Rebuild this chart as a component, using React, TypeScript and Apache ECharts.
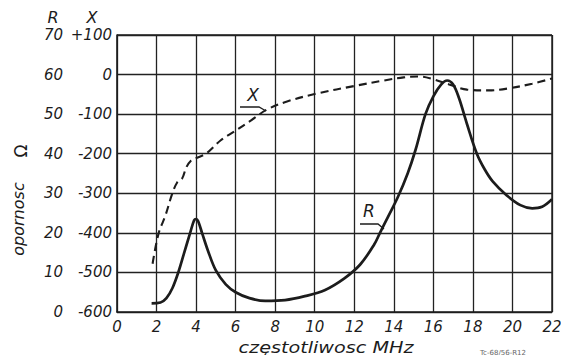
import React, { useEffect, useRef } from "react";
import * as echarts from "echarts";

const xTicks = [0, 2, 4, 6, 8, 10, 12, 14, 16, 18, 20, 22];
const rTicks = [0, 10, 20, 30, 40, 50, 60, 70];
const xReactTicks = [-600, -500, -400, -300, -200, -100, 0, 100];

// R (resistance, ohm) vs frequency (MHz)
const rFreq = [1.75, 2.2, 2.5, 2.8, 3.1, 3.4, 3.7, 3.9, 4.0, 4.1, 4.3, 4.6, 5.0, 5.5, 6.0, 6.7, 7.5, 8.5, 9.5, 10.5, 11.5, 12.3, 13.0, 13.3, 13.7, 14.2, 14.7, 15.1, 15.6, 16.0, 16.4, 16.7, 17.0, 17.3, 17.7, 18.2, 18.6, 19.0, 19.7, 20.4, 21.0, 21.5, 22.0];
const rValues = [2.2, 2.4, 3.5, 6, 10, 15, 20, 23.2, 23.5, 23, 20, 15.5, 10.5, 7, 5, 3.5, 2.8, 3, 4, 5.5, 8.5, 12, 17, 20, 24, 29, 35, 41, 50, 54.5, 57.5, 58.5, 57.5, 54, 47.5, 40, 36, 33, 29.5, 27, 26.2, 26.6, 28.5];

// X (reactance, ohm) vs frequency (MHz)
const xFreq = [1.8, 2.1, 2.45, 2.8, 3.05, 3.3, 3.5, 3.75, 4.05, 4.5, 5.25, 5.9, 6.8, 7.6, 8.6, 10.1, 12.1, 13.5, 14.5, 15.3, 16.0, 16.8, 17.7, 18.8, 19.8, 21.0, 22.0];
const xValues = [-478, -402, -356, -300, -272, -262, -235, -217, -210, -200, -166, -145, -115, -88, -68, -48, -28, -15, -7, -5, -12, -25, -38, -40, -35, -23, -10];

const FONT = "DejaVu Sans";
const INK = "#1c1c1c";

export default function App() {
  const ref = useRef<HTMLDivElement>(null);
  useEffect(() => {
    if (!ref.current) return;
    const chart = echarts.init(ref.current, null, { renderer: "svg" });
    const rData = rFreq.map((f, i) => [f, rValues[i]]);
    const xData = xFreq.map((f, i) => [f, xValues[i]]);
    const labelStyle = { fontFamily: FONT, fontStyle: "italic" as const, fontSize: 15, color: INK };
    chart.setOption({
      animation: false,
      backgroundColor: "#ffffff",
      grid: { left: 117, right: 17, top: 35, bottom: 51, show: false },
      xAxis: {
        type: "value",
        min: xTicks[0],
        max: xTicks[xTicks.length - 1],
        interval: 2,
        axisLine: { show: true, lineStyle: { color: INK, width: 1.6 } },
        axisTick: { show: false },
        axisLabel: { ...labelStyle, margin: 7 },
        splitLine: { show: true, lineStyle: { color: "#222", width: 1.3 } },
      },
      yAxis: [
        {
          type: "value",
          min: rTicks[0],
          max: rTicks[rTicks.length - 1],
          interval: 10,
          position: "left",
          axisLine: { show: true, onZero: false, lineStyle: { color: INK, width: 1.6 } },
          axisTick: { show: false },
          axisLabel: { ...labelStyle, margin: 54 },
          splitLine: { show: true, lineStyle: { color: "#222", width: 1.3 } },
        },
        {
          type: "value",
          min: xReactTicks[0],
          max: xReactTicks[xReactTicks.length - 1],
          interval: 100,
          position: "left",
          axisLine: { show: false },
          axisTick: { show: false },
          axisLabel: {
            ...labelStyle,
            margin: 5,
            formatter: (v: number) => (v > 0 ? "+" + v : String(v)),
          },
          splitLine: { show: false },
        },
      ],
      series: [
        {
          type: "line",
          name: "R",
          yAxisIndex: 0,
          data: rData,
          smooth: 0.35,
          showSymbol: false,
          lineStyle: { color: INK, width: 2.7 },
        },
        {
          type: "line",
          name: "X",
          yAxisIndex: 1,
          data: xData,
          smooth: 0.35,
          showSymbol: false,
          lineStyle: { color: INK, width: 2.1, type: [8, 5] },
        },
      ],
      graphic: [
        { type: "line", shape: { x1: 117, y1: 35, x2: 552, y2: 35 }, style: { stroke: INK, lineWidth: 1.4 } },
        { type: "line", shape: { x1: 552, y1: 35, x2: 552, y2: 312 }, style: { stroke: INK, lineWidth: 1.4 } },
        { type: "text", x: 53, y: 17, style: { text: "R", font: `italic 16px '${FONT}'`, fill: INK, align: "center", verticalAlign: "middle" } },
        { type: "text", x: 92, y: 17, style: { text: "X", font: `italic 16px '${FONT}'`, fill: INK, align: "center", verticalAlign: "middle" } },
        { type: "text", x: 21, y: 151, rotation: Math.PI / 2, style: { text: "Ω", font: `17px '${FONT}'`, fill: INK, align: "center", verticalAlign: "middle" } },
        { type: "text", x: 18, y: 219, rotation: Math.PI / 2, style: { text: "opornosc", font: `italic 16px '${FONT}'`, fill: INK, align: "center", verticalAlign: "middle" } },
        { type: "text", x: 326, y: 348, scaleX: 1.2, style: { text: "częstotliwosc MHz", font: `italic 16px '${FONT}'`, fill: INK, align: "center", verticalAlign: "middle" } },
        { type: "text", x: 503, y: 353, style: { text: "Tc-68/56-R12", font: `7px '${FONT}'`, fill: "#666", align: "center", verticalAlign: "middle" } },
        { type: "text", x: 253, y: 95, style: { text: "X", font: `italic 17px '${FONT}'`, fill: INK, align: "center", verticalAlign: "middle" } },
        { type: "polyline", shape: { points: [[240, 107], [259, 107], [266, 111]] }, style: { stroke: INK, lineWidth: 1.3, fill: "none" } },
        { type: "text", x: 369, y: 211, style: { text: "R", font: `italic 17px '${FONT}'`, fill: INK, align: "center", verticalAlign: "middle" } },
        { type: "polyline", shape: { points: [[360, 224], [378, 224], [384, 229]] }, style: { stroke: INK, lineWidth: 1.3, fill: "none" } },
      ],
    });
    return () => chart.dispose();
  }, []);
  return <div ref={ref} style={{ width: 569, height: 363, margin: -8 }} />;
}
